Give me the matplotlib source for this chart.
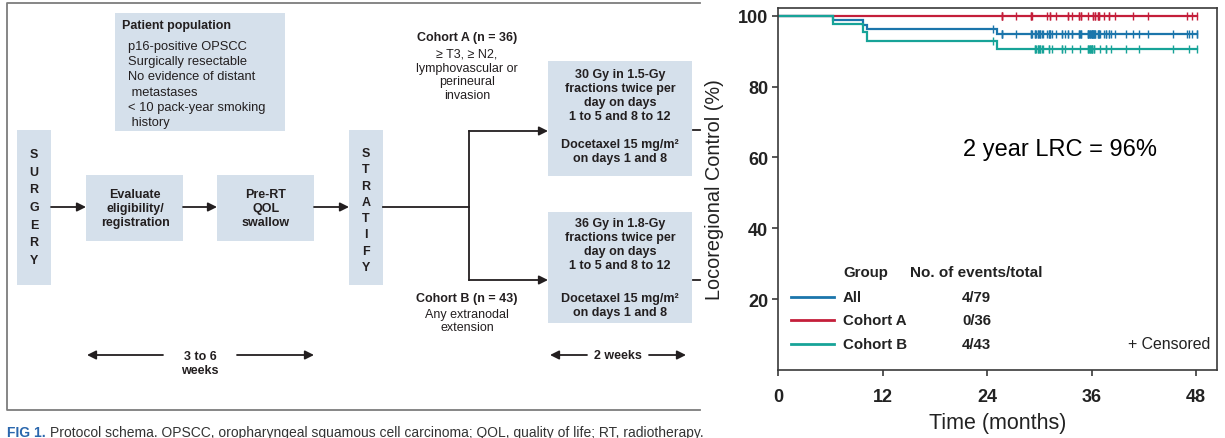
import matplotlib
matplotlib.use("Agg")
import matplotlib.pyplot as plt
import numpy as np
from matplotlib.patches import Rectangle

plt.rcParams["font.family"] = ["Liberation Sans", "DejaVu Sans"]

# ---- Kaplan-Meier data (months) ----
COHORT_A_EVENTS = []
COHORT_A_CENSOR = [25.7, 25.7, 25.7, 27.3, 29.0, 29.0, 29.2, 30.9, 31.2, 31.2, 31.9, 33.3, 33.3,
                   33.7, 34.6, 34.6, 34.8, 34.8, 35.6, 36.2, 36.2, 36.4, 36.4, 36.7, 36.7, 36.9,
                   36.9, 37.4, 38.0, 38.0, 38.7, 40.7, 42.5, 46.9, 47.5, 48.1]
COHORT_B_EVENTS = [6.3, 9.8, 10.2, 25.1]
COHORT_B_CENSOR = [24.7, 29.5, 29.5, 29.6, 29.9, 29.9, 30.0, 30.1, 30.1, 30.3, 30.4, 31.1, 31.1,
                   31.4, 32.6, 32.6, 33.0, 33.7, 34.7, 35.6, 35.6, 35.7, 35.8, 35.8, 35.9, 36.0,
                   36.0, 36.1, 36.3, 36.3, 37.0, 37.6, 37.6, 38.2, 39.9, 41.4, 45.4, 47.2, 48.1]

GROUPS = ["All", "Cohort A", "Cohort B"]
EVENTS_TOTAL = ["4/79", "0/36", "4/43"]
X_TICKS = [0, 12, 24, 36, 48]
Y_TICKS = [20, 40, 60, 80, 100]

BOX = "#d5e0eb"
INK = "#231f20"
FRAME = "#7d7d7d"
BLUE = "#1b75ab"
RED = "#c41e3a"
TEAL = "#17a398"
AXIS = "#3a3a3a"
LABEL = "#222222"


def km_curve(events, censored):
    ev = np.array(events, dtype=float)
    ce = np.array(censored, dtype=float)
    times = np.concatenate([ev, ce])
    xs, ys, s = [0.0], [100.0], 1.0
    for t in np.unique(ev):
        n = np.sum(times >= t)
        d = np.sum(ev == t)
        s *= 1 - d / n
        xs.append(t)
        ys.append(100 * s)
    xs.append(times.max())
    ys.append(100 * s)
    return np.array(xs), np.array(ys)


def surv_at(xs, ys, t):
    idx = np.searchsorted(xs, t, side="right") - 1
    return ys[idx]


def box(ax, x0, y0, x1, y1):
    ax.add_patch(Rectangle((x0, y0), x1 - x0, y1 - y0, facecolor=BOX, edgecolor="none"))


def arrow(ax, x0, y0, x1, y1):
    ax.annotate("", xy=(x1, y1), xytext=(x0, y0),
                arrowprops=dict(arrowstyle="-|>", color=INK, lw=1.3, mutation_scale=13,
                                shrinkA=0, shrinkB=0))


def draw_schema(ax):
    # outer frame (cut on the right by the KM plot)
    ax.plot([700, 7, 7, 700], [4, 4, 411, 411], color=FRAME, lw=1.3)

    # patient population
    box(ax, 115, 14, 285, 132)
    ax.text(122, 26, "Patient population", fontsize=9, fontweight="bold", color=INK, va="center")
    pop = ["p16-positive OPSCC", "Surgically resectable", "No evidence of distant",
           " metastases", "< 10 pack-year smoking", " history"]
    for i, line in enumerate(pop):
        ax.text(128, 47 + i * 15.2, line, fontsize=9.3, color=INK, va="center")

    # vertical word boxes
    box(ax, 17, 131, 51, 286)
    for i, ch in enumerate("SURGERY"):
        ax.text(34, 155 + i * 17.7, ch, fontsize=9, fontweight="bold", color=INK, ha="center", va="center")
    box(ax, 349, 131, 383, 286)
    for i, ch in enumerate("STRATIFY"):
        ax.text(366, 154 + i * 16.3, ch, fontsize=9, fontweight="bold", color=INK, ha="center", va="center")

    box(ax, 86, 176, 183, 242)
    ax.text(135, 209, "Evaluate\neligibility/\nregistration", fontsize=9, fontweight="bold",
            color=INK, ha="center", va="center", linespacing=1.2)
    box(ax, 217, 176, 314, 242)
    ax.text(266, 209, "Pre-RT\nQOL\nswallow", fontsize=9, fontweight="bold",
            color=INK, ha="center", va="center", linespacing=1.2)

    arrow(ax, 51, 208, 86, 208)
    arrow(ax, 183, 208, 217, 208)
    arrow(ax, 314, 208, 349, 208)

    # branching
    ax.plot([383, 469], [208, 208], color=INK, lw=1.3)
    ax.plot([469, 469], [132, 281], color=INK, lw=1.3)
    arrow(ax, 469, 132, 548, 132)
    arrow(ax, 469, 281, 548, 281)
    ax.plot([693, 700], [131, 131], color=INK, lw=1.3)
    ax.plot([693, 700], [281, 281], color=INK, lw=1.3)

    # cohort boxes
    box(ax, 548, 62, 692, 177)
    ax.text(620, 96, "30 Gy in 1.5-Gy\nfractions twice per\nday on days\n1 to 5 and 8 to 12",
            fontsize=9, fontweight="bold", color=INK, ha="center", va="center", linespacing=1.2)
    ax.text(620, 152, "Docetaxel 15 mg/m\u00b2\non days 1 and 8",
            fontsize=9, fontweight="bold", color=INK, ha="center", va="center", linespacing=1.2)
    box(ax, 548, 213, 692, 324)
    ax.text(620, 245, "36 Gy in 1.8-Gy\nfractions twice per\nday on days\n1 to 5 and 8 to 12",
            fontsize=9, fontweight="bold", color=INK, ha="center", va="center", linespacing=1.2)
    ax.text(620, 306, "Docetaxel 15 mg/m\u00b2\non days 1 and 8",
            fontsize=9, fontweight="bold", color=INK, ha="center", va="center", linespacing=1.2)

    # cohort labels
    ax.text(467, 38, "Cohort A (n = 36)", fontsize=9, fontweight="bold", color=INK, ha="center", va="center")
    ax.text(467, 75.5, "\u2265 T3, \u2265 N2,\nlymphovascular or\nperineural\ninvasion",
            fontsize=9, color=INK, ha="center", va="center", linespacing=1.2)
    ax.text(467, 299, "Cohort B (n = 43)", fontsize=9, fontweight="bold", color=INK, ha="center", va="center")
    ax.text(467, 321.5, "Any extranodal\nextension", fontsize=9, color=INK, ha="center", va="center",
            linespacing=1.2)

    # durations
    ax.text(200, 364, "3 to 6\nweeks", fontsize=9, fontweight="bold", color=INK, ha="center", va="center",
            linespacing=1.2)
    arrow(ax, 163, 356, 87, 356)
    arrow(ax, 237, 356, 314, 356)
    ax.text(618, 356, "2 weeks", fontsize=9, fontweight="bold", color=INK, ha="center", va="center")
    arrow(ax, 587, 356, 550, 356)
    arrow(ax, 649, 356, 686, 356)

    # caption (partly cut by the bottom edge, as in the source)
    ax.text(7, 437.5, "FIG 1.", fontsize=10, fontweight="bold", color="#2a67ad", va="baseline")
    ax.text(50, 437.5, "Protocol schema. OPSCC, oropharyngeal squamous cell carcinoma; QOL, quality of life; "
            "RT, radiotherapy.", fontsize=10, color="#333333", va="baseline")


def draw_km(fig):
    ax = fig.add_axes([778 / 1225, 1 - 371 / 439, (1217 - 778) / 1225, (371 - 9) / 439])
    ax.set_facecolor("white")
    ax.set_xlim(0, 50.4)
    ax.set_ylim(0, 102.2)

    curves = [
        (COHORT_A_EVENTS, COHORT_A_CENSOR, RED),
        (COHORT_B_EVENTS, COHORT_A_CENSOR + COHORT_B_CENSOR, BLUE),
        (COHORT_B_EVENTS, COHORT_B_CENSOR, TEAL),
    ]
    for events, censor, color in curves:
        xs, ys = km_curve(events, censor)
        ax.step(xs, ys, where="post", color=color, lw=1.6, solid_joinstyle="miter")
        cy = [surv_at(xs, ys, t) for t in censor]
        ax.plot(censor, cy, ls="none", marker="|", ms=6, mew=1.0, color=color)

    ax.set_xticks(X_TICKS)
    ax.set_yticks(Y_TICKS)
    for lab in ax.get_xticklabels() + ax.get_yticklabels():
        lab.set_fontweight("bold")
        lab.set_fontsize(13)
        lab.set_color(LABEL)
    ax.tick_params(axis="x", length=4, width=1.2, pad=9, color=AXIS)
    ax.tick_params(axis="y", length=4, width=1.2, pad=3, color=AXIS)
    for sp in ax.spines.values():
        sp.set_color(AXIS)
        sp.set_linewidth(1.2)

    ax.set_xlabel("Time (months)", fontsize=15.5, color=LABEL, labelpad=5)
    ax.set_ylabel("Locoregional Control (%)", fontsize=14.3, color=LABEL, labelpad=10)

    ax.text(0.643, 0.61, "2 year LRC = 96%", transform=ax.transAxes, fontsize=17, color="black",
            ha="center", va="center")

    # legend table
    ax.text(0.148, 0.271, "Group", transform=ax.transAxes, fontsize=10.8, fontweight="bold",
            color=LABEL, va="center")
    ax.text(0.30, 0.271, "No. of events/total", transform=ax.transAxes, fontsize=11, fontweight="bold",
            color=LABEL, va="center")
    rows_y = [0.2017, 0.138, 0.072]
    for name, val, color, y in zip(GROUPS, EVENTS_TOTAL, [BLUE, RED, TEAL], rows_y):
        ax.plot([0.03, 0.128], [y, y], transform=ax.transAxes, color=color, lw=2.0)
        ax.text(0.148, y, name, transform=ax.transAxes, fontsize=10.8, fontweight="bold",
                color=LABEL, va="center")
        ax.text(0.419, y, val, transform=ax.transAxes, fontsize=10.8, fontweight="bold",
                color=LABEL, va="center")
    ax.text(0.984, 0.072, "+ Censored", transform=ax.transAxes, fontsize=11.4,
            color=LABEL, va="center", ha="right")
    return ax


def main():
    fig = plt.figure(figsize=(12.25, 4.39), dpi=100, facecolor="white")
    bg = fig.add_axes([0, 0, 1, 1])
    bg.set_xlim(0, 1225)
    bg.set_ylim(439, 0)
    bg.axis("off")
    draw_schema(bg)
    draw_km(fig)
    fig.savefig("out.png", dpi=100, facecolor="white")
    plt.close(fig)


if __name__ == "__main__":
    main()
